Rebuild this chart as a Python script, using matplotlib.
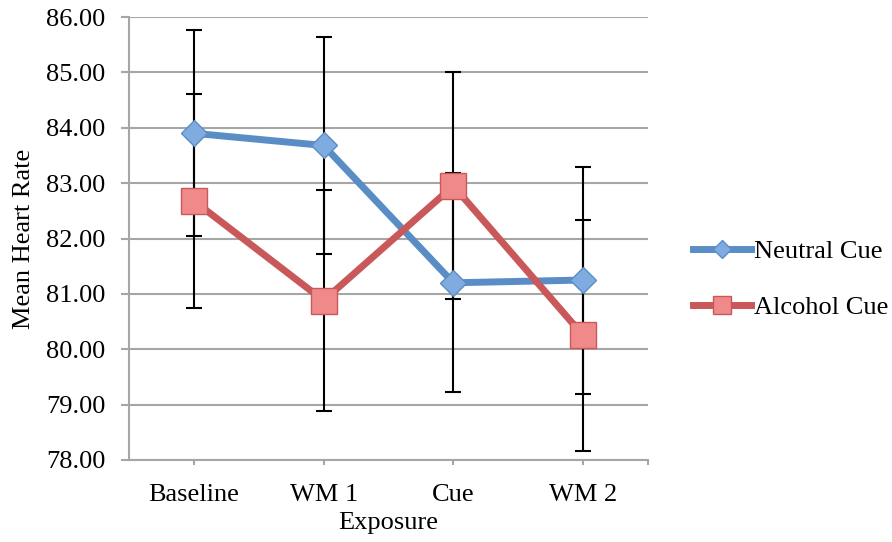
import matplotlib
matplotlib.use("Agg")
import matplotlib.pyplot as plt
import numpy as np

# data
categories = ["Baseline", "WM 1", "Cue", "WM 2"]
neutral = [83.90, 83.68, 81.20, 81.25]
neutral_err = [1.86, 1.96, 1.98, 2.05]
alcohol = [82.68, 80.88, 82.95, 80.25]
alcohol_err = [1.93, 2.00, 2.05, 2.08]
yticks = [78, 79, 80, 81, 82, 83, 84, 85, 86]

BLUE = "#5a8dc6"
BLUE_FILL = "#7fabe0"
RED = "#c9585a"
RED_FILL = "#f08a8a"
AXIS_GRAY = "#a6a6a6"
FS = 19

plt.rcParams["font.family"] = ["Liberation Serif", "DejaVu Serif"]

fig = plt.figure(figsize=(8.92, 5.42), dpi=100)
ax = fig.add_axes([129 / 892, 82 / 542, 519 / 892, 443 / 542])

x = np.arange(len(categories))

ax.errorbar(x, neutral, yerr=neutral_err, fmt="none", ecolor="black",
            elinewidth=1.5, capsize=5.5, capthick=1.5, zorder=3)
ax.errorbar(x, alcohol, yerr=alcohol_err, fmt="none", ecolor="black",
            elinewidth=1.5, capsize=5.5, capthick=1.5, zorder=3)

ax.plot(x, neutral, color=BLUE, lw=5, marker="D", ms=13,
        markerfacecolor=BLUE_FILL, markeredgecolor=BLUE, markeredgewidth=1,
        label="Neutral Cue", zorder=4)
ax.plot(x, alcohol, color=RED, lw=5, marker="s", ms=19,
        markerfacecolor=RED_FILL, markeredgecolor=RED, markeredgewidth=1,
        label="Alcohol Cue", zorder=5)

ax.set_xlim(-0.5, len(categories) - 0.5)
ax.set_ylim(78, 86)
ax.set_yticks(yticks)
ax.set_yticklabels([f"{v:.2f}" for v in yticks], fontsize=FS)
ax.set_xticks(x)
ax.set_xticklabels(categories, fontsize=FS)
ax.set_xticks([len(categories) - 0.5], minor=True)

ax.yaxis.grid(True, color=AXIS_GRAY, lw=1.5)
ax.set_axisbelow(True)
for side in ["top", "right"]:
    ax.spines[side].set_visible(False)
for side in ["left", "bottom"]:
    ax.spines[side].set_color(AXIS_GRAY)
    ax.spines[side].set_linewidth(1.5)
ax.tick_params(axis="y", length=6, width=1.5, color=AXIS_GRAY, pad=11)
ax.tick_params(axis="x", which="both", length=3.5, width=1.5, color=AXIS_GRAY, pad=14)

ax.set_xlabel("Exposure", fontsize=FS, labelpad=4)
ax.set_ylabel("Mean Heart Rate", fontsize=FS, labelpad=8)

leg = ax.legend(loc="center left", bbox_to_anchor=(1.087, 0.408), frameon=False,
                fontsize=FS, handlelength=2.2, handletextpad=0.1,
                labelspacing=1.25, markerscale=0.7, borderpad=0, borderaxespad=0)

fig.savefig("out.png", dpi=100)
